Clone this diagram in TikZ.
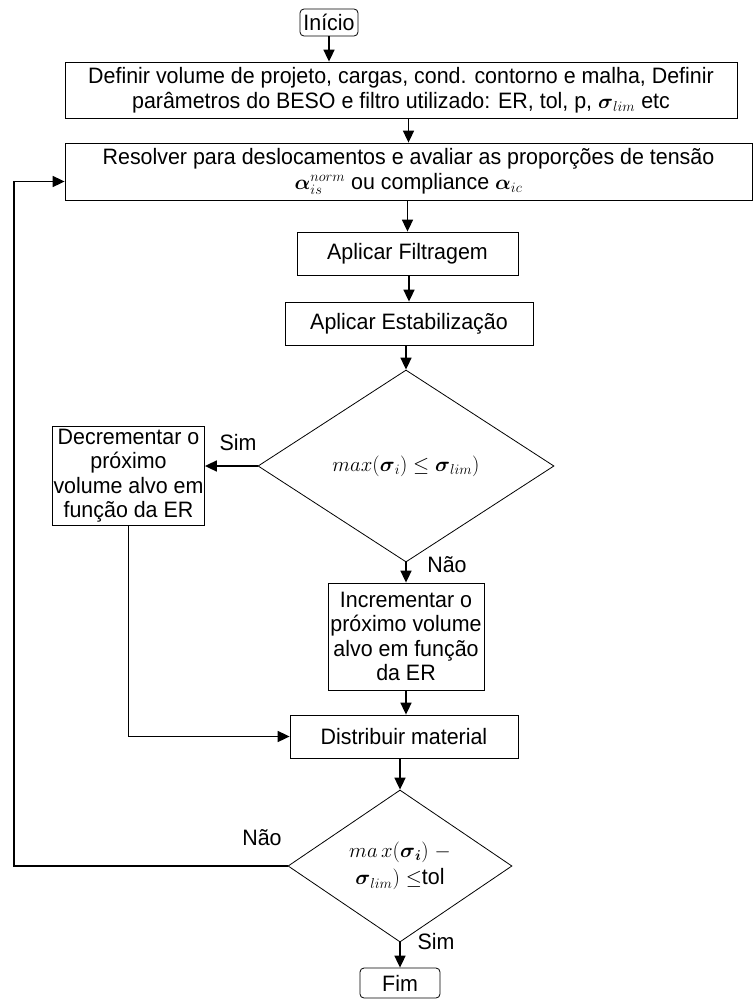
\documentclass[tikz,border=0pt]{standalone}
\usepackage{amsmath}
\usepackage{fontspec}
\setmainfont[FakeStretch=0.96]{Liberation Sans}
\usetikzlibrary{arrows.meta,shapes.geometric}
\tikzset{
  txt/.style={font=\fontsize{22.3}{24.5}\selectfont},
  box/.style={txt, draw, line width=0.8pt, align=center, inner sep=0pt},
  rbox/.style={box, rounded corners=4pt},
  dia/.style={txt, draw, diamond, line width=0.8pt, align=center, inner sep=0pt},
  arr/.style={line width=1.7pt, -{Triangle[length=12pt,width=11pt]}},
  lbl/.style={txt, inner sep=0pt}
}
\begin{document}
\begin{tikzpicture}[x=1pt,y=-1pt]
\useasboundingbox (0,0) rectangle (754,999);
\node[rbox, minimum width=58pt, minimum height=27pt] (ini) at (329,22.5) {Início};
\node[box, minimum width=672pt, minimum height=56pt] (def) at (401,90)
  {Definir volume de projeto, cargas, cond. contorno e malha, Definir\\
   parâmetros do BESO e filtro utilizado: ER, tol, p, $\boldsymbol{\sigma}_{lim}$ etc};
\node[box, minimum width=687pt, minimum height=57pt] (res) at (408.5,171.5)
  {Resolver para deslocamentos e avaliar as proporções de tensão\\
   $\boldsymbol{\alpha}_{is}^{norm}$ ou compliance $\boldsymbol{\alpha}_{ic}$};
\node[box, minimum width=221pt, minimum height=43pt] (fil) at (407.5,253.5) {Aplicar Filtragem};
\node[box, minimum width=248pt, minimum height=43pt] (est) at (409,323.5) {Aplicar Estabilização};
\node[dia, minimum width=296pt, minimum height=192pt] (d1) at (406,466)
  {$max(\boldsymbol{\sigma}_i) \leq \boldsymbol{\sigma}_{lim})$};
\node[box, minimum width=152pt, minimum height=99pt] (dec) at (128.5,475.5)
  {Decrementar o\\próximo\\volume alvo em\\função da ER};
\node[box, minimum width=156pt, minimum height=107pt] (inc) at (406,636.5)
  {Incrementar o\\próximo volume\\alvo em função\\da ER};
\node[box, minimum width=228pt, minimum height=43pt] (dist) at (404,736.5) {Distribuir material};
\node[dia, minimum width=224pt, minimum height=152pt] (d2) at (400,866)
  {$ma\,x(\boldsymbol{\sigma}_{\boldsymbol{i}})$ $-$\\[3pt]$\boldsymbol{\sigma}_{lim})$ $\leq$tol};
\node[rbox, minimum width=80pt, minimum height=30pt] (fim) at (400,983) {Fim};

\node[lbl] (sim1) at (238,443) {Sim};
\node[lbl] (nao1) at (447,565) {Não};
\node[lbl] (nao2) at (262,838) {Não};
\node[lbl] (sim2) at (436,942) {Sim};

\draw[arr] (ini.south) -- (ini.south |- def.north);
\draw[arr] (res.north |- def.south) -- (res.north);
\draw[arr] (fil.north |- res.south) -- (fil.north);
\draw[arr] (fil.south -| est.north) -- (est.north);
\draw[arr] (d1.north |- est.south) -- (d1.north);
\draw[arr] (d1.west) -- (d1.west -| dec.east);
\draw[arr] (d1.south) -- (d1.south |- inc.north);
\draw[arr] (dec.south) |- (dist.west);
\draw[arr] (inc.south) -- (inc.south |- dist.north);
\draw[arr] (d2.north |- dist.south) -- (d2.north);
\draw[arr] (d2.south) -- (fim.north);
\coordinate (fb) at (14,866);
\draw[arr] (d2.west) -- (fb) |- ([yshift=-10pt]res.west);
\end{tikzpicture}
\end{document}
